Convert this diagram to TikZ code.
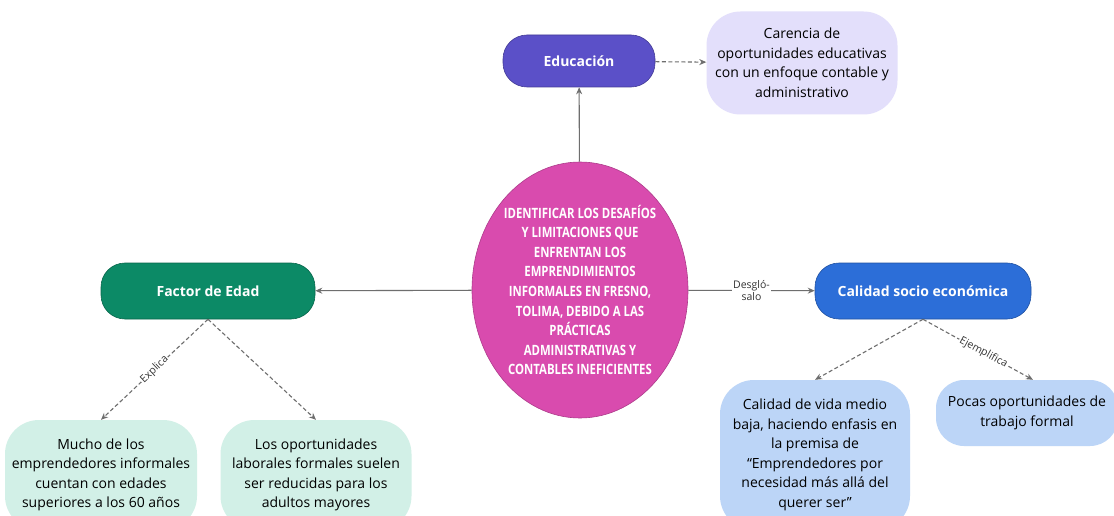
\documentclass[tikz,border=0pt]{standalone}
\usepackage{fontspec}
\setmainfont{Open Sans}
\newfontfamily\condfont[FakeStretch=0.80]{Open Sans}
\usepackage{tikz}
\usetikzlibrary{arrows.meta,
                positioning,
                shapes.geometric}

\definecolor{educ}{HTML}{5B50C8}
\definecolor{educlight}{HTML}{E3DFFB}
\definecolor{central}{HTML}{D94BAE}
\definecolor{edad}{HTML}{0C8A66}
\definecolor{edadlight}{HTML}{D2F0E7}
\definecolor{socio}{HTML}{2C6ED8}
\definecolor{sociolight}{HTML}{BCD5F7}
\definecolor{linegray}{HTML}{6E6E6E}

\tikzset{
  topic/.style={rectangle, rounded corners=24pt, draw=#1!75!black, fill=#1,
    text=white, font=\bfseries\fontsize{14}{18}\selectfont,
    minimum height=56pt, align=center, line width=0.6pt},
  detail/.style={rectangle, rounded corners=34pt, fill=#1, draw=none,
    font=\fontsize{14}{19.5}\selectfont, align=center, inner sep=2pt},
  link/.style={draw=linegray, line width=1.1pt, -{Stealth[length=7pt,width=6pt]}},
  dlink/.style={link, dashed, dash pattern=on 4pt off 2.5pt},
  tag/.style={fill=white, inner sep=1pt, text=black!80,
    font=\fontsize{10.5}{12}\selectfont}
}

\begin{document}
\begin{tikzpicture}[x=1pt,y=-1pt]
\clip (0,0) rectangle (1114,516);
\fill[white] (0,0) rectangle (1114,516);

% central idea
\node[ellipse, fill=central, draw=central!80!black, line width=0.6pt,
      minimum width=216pt, minimum height=256pt, inner sep=0pt,
      text=white, align=center,
      font=\condfont\bfseries\fontsize{14.2}{19.6}\selectfont]
  (main) at (580,290) {IDENTIFICAR LOS DESAFÍOS\\Y LIMITACIONES QUE\\ENFRENTAN LOS\\EMPRENDIMIENTOS\\INFORMALES EN FRESNO,\\TOLIMA, DEBIDO A LAS\\PRÁCTICAS\\ADMINISTRATIVAS Y\\CONTABLES INEFICIENTES};

% topics
\node[topic=educ, minimum width=152pt, minimum height=52pt] (educ) at (579,61) {Educación};
\node[topic=edad, minimum width=214pt] (edad) at (208,291) {Factor de Edad};
\node[topic=socio, minimum width=216pt] (socio) at (923,291) {Calidad socio económica};

% details
\node[detail=educlight, minimum width=191pt, minimum height=103pt] (carencia) at (802,63)
  {Carencia de\\oportunidades educativas\\con un enfoque contable y\\administrativo};
\node[detail=edadlight, minimum width=192pt, minimum height=110pt] (mucho) at (101,475)
  {Mucho de los\\emprendedores informales\\cuentan con edades\\superiores a los 60 años};
\node[detail=edadlight, minimum width=191pt, minimum height=110pt] (laboral) at (316,475)
  {Los oportunidades\\laborales formales suelen\\ser reducidas para los\\adultos mayores};
\node[detail=sociolight, minimum width=190pt, minimum height=150pt] (vida) at (815,455)
  {Calidad de vida medio\\baja, haciendo enfasis en\\la premisa de\\“Emprendedores por\\necesidad más allá del\\querer ser”};
\node[detail=sociolight, minimum width=182pt, minimum height=66pt, rounded corners=28pt] (pocas) at (1027,413)
  {Pocas oportunidades de\\trabajo formal};

% connectors
\draw[link] (main) -- (educ);
\draw[link] (main) -- (edad);
\draw[link] (main) -- node[tag, align=center] {Desgló-\\salo} (socio);
\draw[dlink] (educ) -- (carencia);
\draw[dlink] (edad.south) -- node[tag, sloped] {Explica} (mucho.north);
\draw[dlink] (edad.south) -- (laboral.north);
\draw[dlink] (socio.south) -- (vida.north);
\draw[dlink] (socio.south) -- node[tag, sloped, pos=0.55] {Ejemplifica} ([xshift=6pt]pocas.north);
\end{tikzpicture}
\end{document}
